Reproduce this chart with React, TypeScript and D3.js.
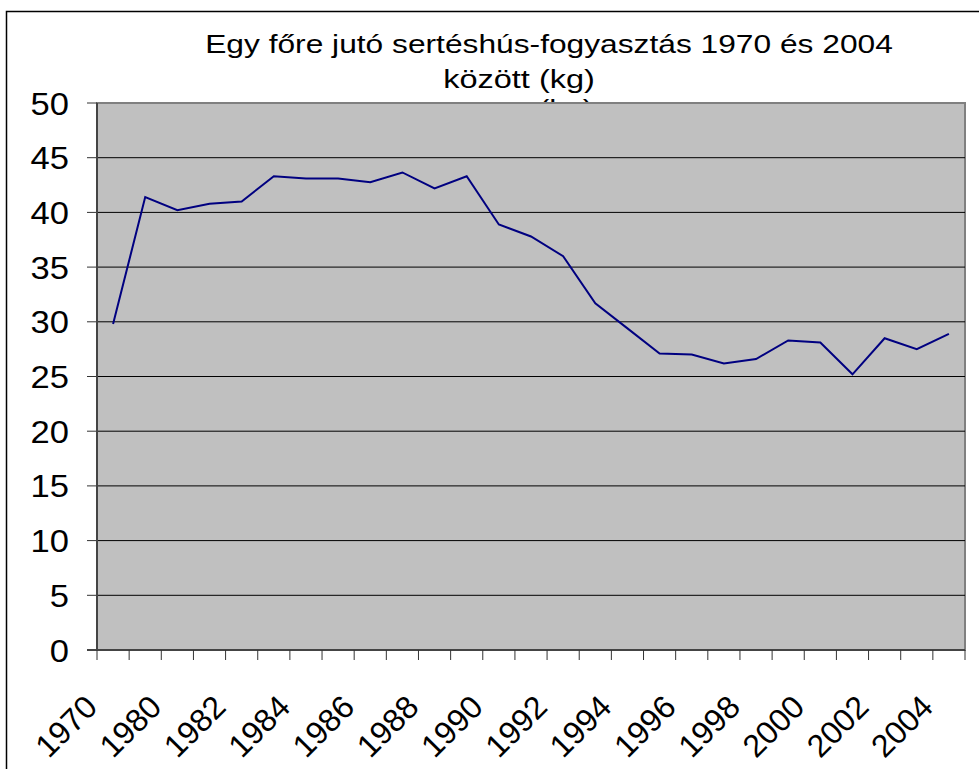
import React from "react";
import * as d3 from "d3";

const titleLines = ["Egy főre jutó sertéshús-fogyasztás 1970 és 2004", "között (kg)"];
const categories = [
  "1970", "1979", "1980", "1981", "1982", "1983", "1984", "1985", "1986", "1987",
  "1988", "1989", "1990", "1991", "1992", "1993", "1994", "1995", "1996", "1997",
  "1998", "1999", "2000", "2001", "2002", "2003", "2004",
];
const values = [
  29.8, 41.4, 40.2, 40.8, 41.0, 43.3, 43.1, 43.1, 42.75, 43.65,
  42.2, 43.3, 38.9, 37.8, 36.0, 31.7, 29.4, 27.1, 27.0, 26.2,
  26.6, 28.3, 28.1, 25.2, 28.5, 27.5, 28.9,
];
const yTicks = [0, 5, 10, 15, 20, 25, 30, 35, 40, 45, 50];

const W = 979;
const H = 769;
const FONT = "'Liberation Sans', Arial, sans-serif";

export default function App() {
  const left = 97, right = 965, top = 103, bottom = 650;
  const x = d3.scaleBand<string>().domain(categories).range([left, right]).paddingInner(0).paddingOuter(0);
  const y = d3.scaleLinear().domain([0, 50]).range([bottom, top]);
  const line = d3
    .line<number>()
    .x((_, i) => (x(categories[i]) as number) + x.bandwidth() / 2)
    .y((d) => y(d));
  const boundaries = d3.range(categories.length + 1).map((i) => left + i * x.bandwidth());

  return (
    <svg width={W} height={H} style={{ position: "absolute", left: 0, top: 0, background: "#fff" }}>
      <rect x={0} y={0} width={W} height={H} fill="#fff" />
      <rect x={6.5} y={11.5} width={W + 20} height={H + 20} fill="none" stroke="#000" strokeWidth={1.5} />
      <text transform="translate(549,53) scale(1.22,1)" fontFamily={FONT} fontSize={26} textAnchor="middle" fill="#000">
        {titleLines[0]}
      </text>
      <text transform="translate(519,88) scale(1.25,1)" fontFamily={FONT} fontSize={26} textAnchor="middle" fill="#000">
        {titleLines[1]}
      </text>
      <text transform="translate(566,118) scale(1.22,1)" fontFamily={FONT} fontSize={26} textAnchor="middle" fill="#000">(kg)</text>
      <rect x={left} y={top} width={right - left} height={bottom - top} fill="#c0c0c0" stroke="#808080" strokeWidth={2} />
      {yTicks.map((t) => (
        <g key={t}>
          {t > 0 && t < 50 && <line x1={left} x2={right} y1={y(t)} y2={y(t)} stroke="#000" strokeWidth={1} />}
          <line x1={left - 10} x2={left} y1={y(t)} y2={y(t)} stroke="#333" strokeWidth={1} />
          <text transform={`translate(69,${y(t) + 11.5}) scale(1.08,1)`} fontFamily={FONT} fontSize={32} textAnchor="end" fill="#000">
            {t}
          </text>
        </g>
      ))}
      <line x1={left} x2={left} y1={top} y2={bottom} stroke="#444" strokeWidth={2} />
      <line x1={left - 10} x2={right} y1={bottom} y2={bottom} stroke="#444" strokeWidth={2} />
      {boundaries.map((bx, i) => (
        <line key={i} x1={bx} x2={bx} y1={bottom} y2={bottom + 10} stroke="#333" strokeWidth={1} />
      ))}
      {categories.map((c, i) =>
        i % 2 === 0 ? (
          <text
            key={c}
            transform={`translate(${(x(c) as number) + x.bandwidth() / 2 - 14},${709}) rotate(-45)`}
            fontFamily={FONT}
            fontSize={32}
            textAnchor="end"
            fill="#000"
          >
            {c}
          </text>
        ) : null
      )}
      <path d={line(values) || ""} fill="none" stroke="#000080" strokeWidth={2} />
    </svg>
  );
}
